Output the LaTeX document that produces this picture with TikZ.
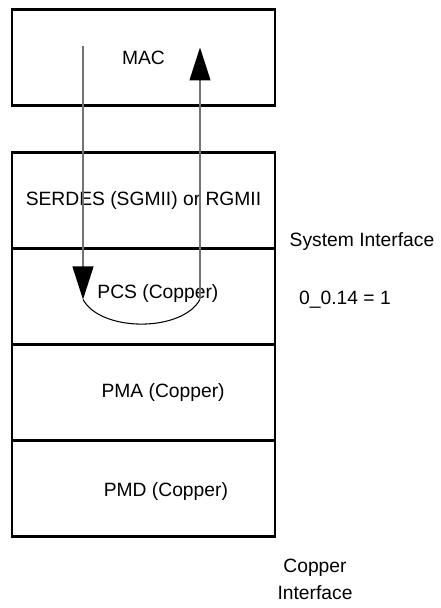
\documentclass[tikz,border=0pt]{standalone}
\usepackage{fontspec}
\setmainfont{Liberation Sans}
\usetikzlibrary{positioning,arrows.meta}

\begin{document}
\begin{tikzpicture}[scale=1.0,
  layer/.style={draw, line width=1.8pt, rectangle, inner sep=0pt, outer sep=0pt,
    minimum width=6.575cm, minimum height=2.4cm, font=\fontsize{13.7}{16}\selectfont},
  lbl/.style={inner sep=0pt, font=\fontsize{13.7}{16}\selectfont},
  sig/.style={draw=black!55, line width=0.75pt,
    -{Triangle[width=0.525cm, length=0.825cm, black]}}]

\useasboundingbox (0,0) rectangle (11.025,15.2);

% ---------- stack of layers
\node[layer] (mac) at (3.5875,13.7625) {MAC};
\node[layer, below=1.175cm of mac] (serdes) {SERDES (SGMII) or RGMII};
\node[layer, below=0pt of serdes] (pcs) {};
\node[layer, below=0pt of pcs] (pma) {};
\node[layer, below=0pt of pma] (pmd) {};

% the lower layers print their names right of centre
\node[lbl] (pcstxt) at ([shift={(0.36,0.08)}]pcs.center) {PCS (Copper)};
\node[lbl] (pmatxt) at ([shift={(0.49,0)}]pma.center) {PMA (Copper)};
\node[lbl] (pmdtxt) at ([shift={(0.56,-0.07)}]pmd.center) {PMD (Copper)};

% ---------- loop-back path, MAC -> PCS -> MAC
\coordinate (rxtop) at ([shift={(1.775,-0.925)}]mac.north west);
\coordinate (rxend) at ([shift={(1.775,-1.275)}]pcs.north west);
\coordinate (txbeg) at ([shift={(4.7,-1.275)}]pcs.north west);
\coordinate (txtop) at ([shift={(4.7,-0.95)}]mac.north west);

\draw[sig] (rxtop) -- (rxend);
\draw[sig] (txbeg) -- (txtop);
\draw[black, line width=0.75pt] (rxend) .. controls ([shift={(0.45,-0.82)}]rxend)
  and ([shift={(-0.45,-0.82)}]txbeg) .. (txbeg);

% ---------- side notes
\node[lbl] (sysif) at (9.05,9.15) {System Interface};
\node[lbl] (reg) at (8.625,7.7) {0\_0.14 = 1};
\node[lbl, align=center, font=\fontsize{13.7}{19}\selectfont] (cuif) at (7.875,0.72)
  {Copper\\Interface};
\end{tikzpicture}
\end{document}
